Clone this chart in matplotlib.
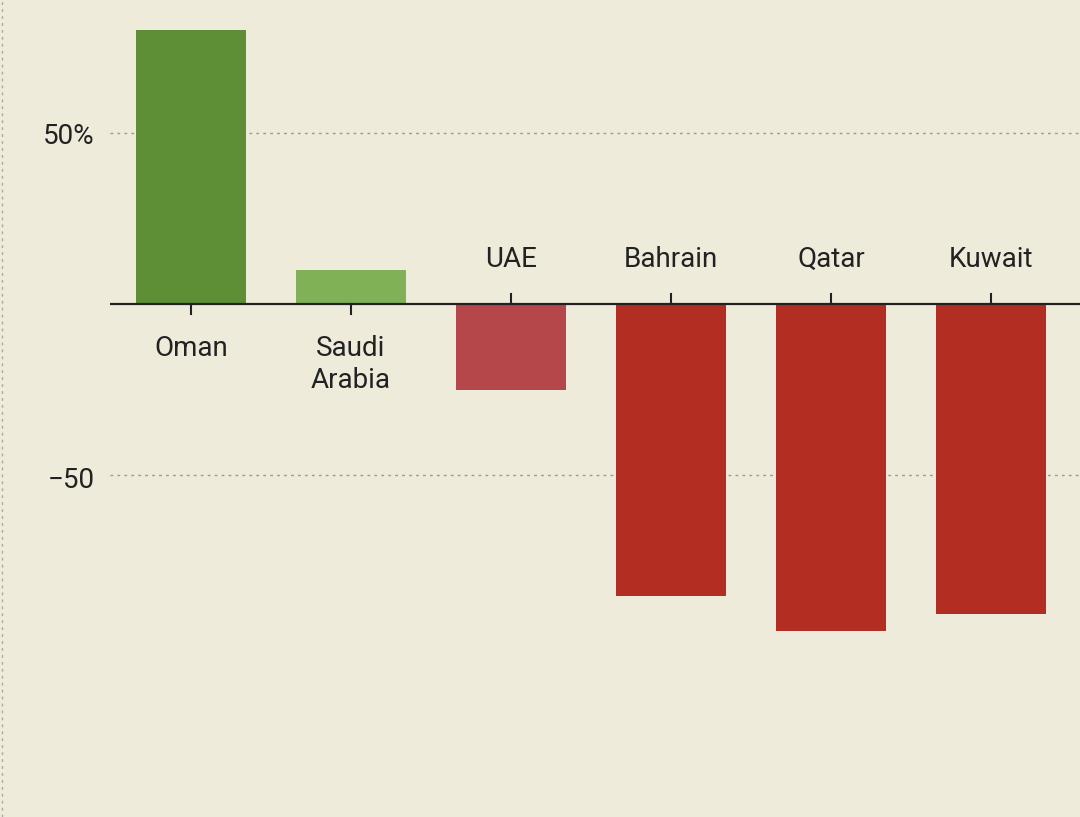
import matplotlib
matplotlib.use("Agg")
import matplotlib.pyplot as plt

countries = ["Oman", "Saudi\nArabia", "UAE", "Bahrain", "Qatar", "Kuwait"]
values = [80, 10, -25, -85.5, -95.5, -90.5]
colors = ["#5e8f37", "#80b157", "#b5474a", "#b22e22", "#b22e22", "#b22e22"]

BG = "#efebdb"
plt.rcParams["font.family"] = ["Roboto", "DejaVu Sans"]

fig = plt.figure(figsize=(10.8, 8.17), dpi=100, facecolor=BG)
ax = fig.add_axes([110 / 1080, 0, 970 / 1080, 1])
ax.set_facecolor(BG)

x = list(range(len(countries)))
ax.bar(x, values, width=0.69, color=colors, zorder=3)

for yv in (50, -50):
    ax.axhline(yv, color="#9a9a90", lw=1, ls=(0, (2, 3)), zorder=1)
ax.axhline(0, color="#222222", lw=1.6, zorder=4)

for xi, name, v in zip(x, countries, values):
    if v >= 0:
        ax.plot([xi, xi], [0, -3], color="#222222", lw=1.5, zorder=4)
        ax.text(xi, -9, name, ha="center", va="top", fontsize=20,
                color="#222222", linespacing=1.25)
    else:
        ax.plot([xi, xi], [0, 3], color="#222222", lw=1.5, zorder=4)
        ax.text(xi, 9, name, ha="center", va="bottom", fontsize=20,
                color="#222222")

ax.set_xlim(-0.506, 5.556)
ax.set_ylim(-150, 88.9)
for s in ax.spines.values():
    s.set_visible(False)
ax.set_xticks([])
ax.set_yticks([])

fig.text(95 / 1080, 1 - 137 / 817, "50%", ha="right", va="center", fontsize=20, color="#222222")
fig.text(95 / 1080, 1 - 480 / 817, "\u221250", ha="right", va="center", fontsize=20, color="#222222")
fig.add_artist(plt.Line2D([2 / 1080, 2 / 1080], [0, 1], color="#aaaaa0", lw=1, ls=(0, (2, 3))))

fig.savefig("out.png", dpi=100, facecolor=BG)
